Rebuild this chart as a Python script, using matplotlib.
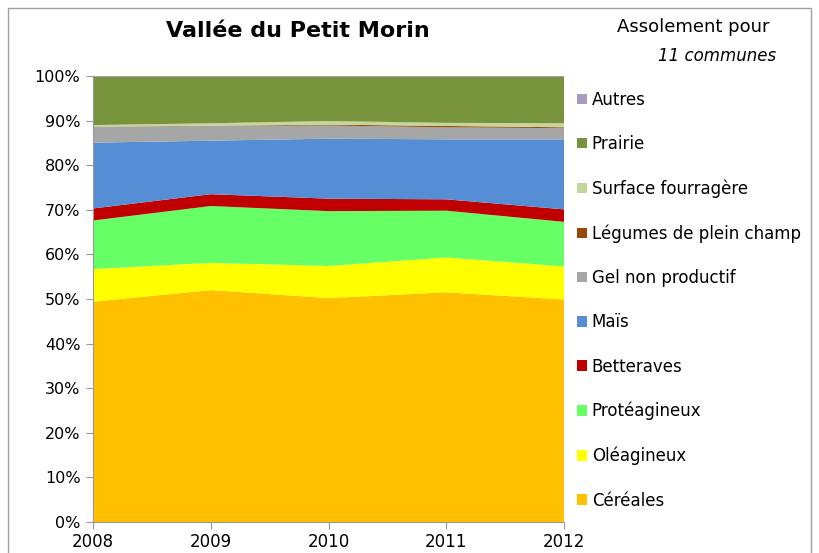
import numpy as np
import matplotlib.pyplot as plt
from matplotlib.patches import Rectangle
from matplotlib.ticker import PercentFormatter

years = [2008, 2009, 2010, 2011, 2012]
labels = ['Céréales', 'Oléagineux', 'Protéagineux', 'Betteraves', 'Maïs',
          'Gel non productif', 'Légumes de plein champ', 'Surface fourragère',
          'Prairie', 'Autres']
# parts de l'assolement (%)
cereales = [49.4, 52.0, 50.2, 51.5, 49.9]
oleagineux = [7.3, 6.1, 7.2, 7.8, 7.4]
proteagineux = [10.9, 12.75, 12.3, 10.5, 10.0]
betteraves = [2.7, 2.65, 2.8, 2.55, 2.8]
mais = [14.75, 12.0, 13.45, 13.45, 15.7]
gel = [3.55, 3.3, 2.95, 2.7, 2.5]
legumes = [0.05, 0.05, 0.2, 0.3, 0.2]
fourragere = [0.35, 0.55, 0.8, 0.7, 0.9]
prairie = [10.8, 10.4, 9.9, 10.3, 10.4]
autres = [0.2, 0.2, 0.2, 0.2, 0.2]

colors = ['#FFC000', '#FFFF00', '#66FF66', '#C00000', '#558ED5',
          '#A6A6A6', '#984807', '#C3D69B', '#77933C', '#A89BC0']

fig = plt.figure(figsize=(8.19, 5.53), dpi=100)
ax = fig.add_axes([93/819, 31/553, 471/819, 446/553])

series = [cereales, oleagineux, proteagineux, betteraves, mais, gel,
          legumes, fourragere, prairie, autres]
polys = ax.stackplot(years, *series, colors=colors, labels=labels, linewidth=0)

ax.set_xlim(2008, 2012)
ax.set_ylim(0, 100)
ax.set_yticks(np.arange(0, 101, 10))
ax.yaxis.set_major_formatter(PercentFormatter(decimals=0))
ax.set_xticks(years)
for s in ['top', 'right']:
    ax.spines[s].set_visible(False)
for s in ['left', 'bottom']:
    ax.spines[s].set_color('#999999')
ax.tick_params(axis='y', colors='#999999', labelcolor='black', labelsize=11.5, length=5, pad=4)
ax.tick_params(axis='x', colors='#999999', labelcolor='black', labelsize=12, length=5, pad=3)

h, l = ax.get_legend_handles_labels()
fig.legend(h[::-1], l[::-1], loc='upper left', bbox_to_anchor=(570/819, 1 - 84/553),
           frameon=False, fontsize=12, handlelength=0.6, handleheight=0.6,
           handletextpad=0.3, labelspacing=1.58, borderaxespad=0)

fig.text(298/819, 1 - 31/553, 'Vallée du Petit Morin', ha='center', va='center',
         fontsize=16, fontweight='bold')
fig.text(693/819, 1 - 27/553, 'Assolement pour', ha='center', va='center', fontsize=13)
fig.text(776/819, 1 - 56/553, '11 communes', ha='right', va='center', fontsize=12,
         style='italic')

fig.patches.append(Rectangle((8/819, -0.05), 803/819, 1.05 - 8/553, transform=fig.transFigure,
                             fill=False, edgecolor='#A0A0A0', linewidth=1))

fig.savefig('out.png', dpi=100)
